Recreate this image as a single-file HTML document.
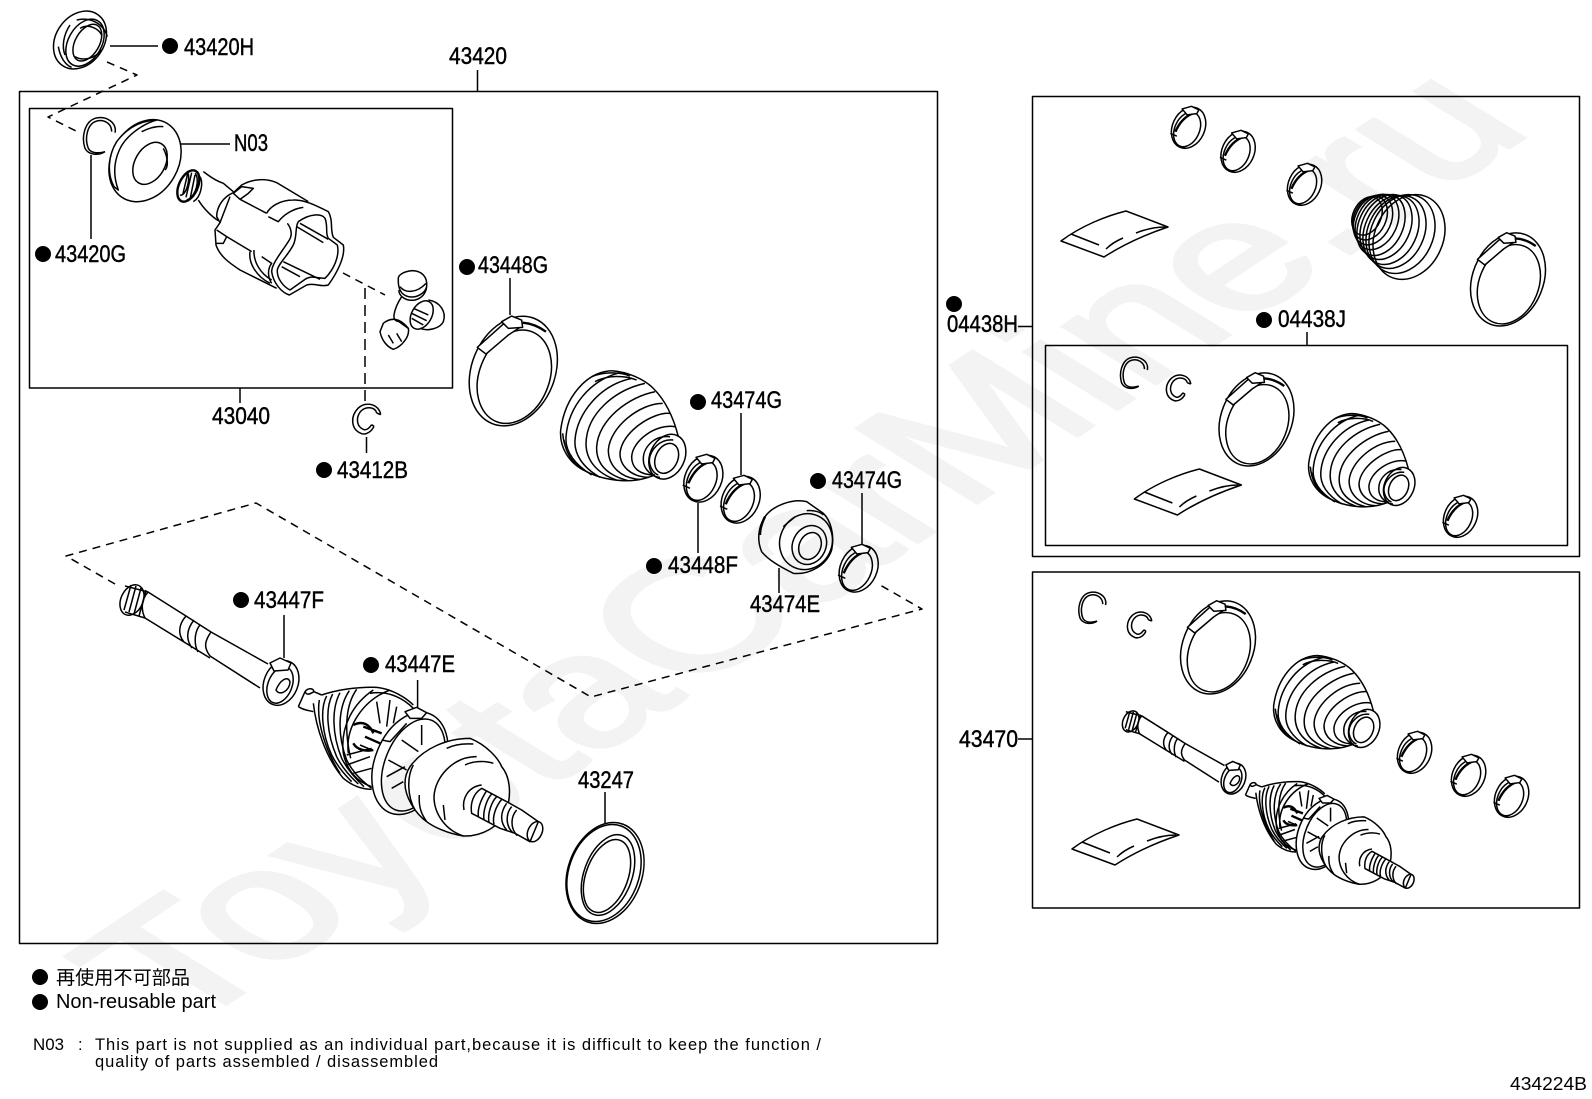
<!DOCTYPE html>
<html><head><meta charset="utf-8"><style>
html,body{margin:0;padding:0;background:#fff}
svg{display:block}
.a path,.a ellipse,.a line,.a polyline,.a rect{fill:none;stroke:#000;stroke-width:1.5;vector-effect:non-scaling-stroke;stroke-linejoin:round}
.a .w{fill:#fff}
.a .t{stroke-width:2.4}
.a .d{stroke-dasharray:8 6;stroke-width:1.5}
.a .b{stroke-width:2.2}
.l{font-family:"Liberation Sans",sans-serif;font-size:24px;fill:#000;stroke:#000;stroke-width:.45}
.s{font-family:"Liberation Sans","Noto Sans CJK JP",sans-serif;fill:#000}
</style></head><body>
<svg class="a" xmlns="http://www.w3.org/2000/svg" width="1592" height="1099" viewBox="0 0 1592 1099">
<defs>
<g id="boot" transform="translate(-540,-560)">
<path d="M515,392C440,395 375,470 362,570C358,620 385,670 440,695C480,715 525,722 560,722C600,722 625,712 645,705"/>
<path d="M515,392C560,395 610,415 640,445C675,480 700,530 715,590"/>
<path d="M540,398C450,420 385,500 378,590C375,630 400,670 455,705"/>
<path d="M575,415C480,435 410,520 405,600C402,640 425,680 480,712"/>
<path d="M615,430C525,450 440,520 438,610C438,660 470,700 530,720"/>
<path d="M645,455C565,470 475,540 470,620C468,670 500,705 565,722"/>
<path d="M668,490C600,490 510,560 505,630C505,680 545,715 600,718"/>
<path d="M690,520C640,515 545,575 540,640C540,680 575,710 625,712"/>
<path d="M705,560C650,550 578,600 575,650C575,685 600,705 645,705"/>
<path d="M455,410C490,395 540,395 570,408M465,425C500,405 555,405 590,420M372,600C378,640 395,665 430,690M368,580C372,625 390,660 420,682"/>
<path d="M690,590C640,585 608,625 610,660C610,690 640,712 660,712M700,600C660,595 630,630 628,660C628,680 640,700 655,705"/>
<ellipse cx="682" cy="650" rx="52" ry="70" transform="rotate(25 682 650)"/>
<ellipse cx="680" cy="655" rx="33" ry="47" transform="rotate(25 680 655)"/>
</g>
<g id="band" transform="translate(-220,-395)">
<ellipse cx="220" cy="393" rx="125" ry="170" transform="rotate(22 220 393)"/>
<ellipse cx="223" cy="410" rx="105" ry="145" transform="rotate(22 223 410)"/>
<path class="w" d="M112,322L190,252L240,262L205,285L138,342Z"/>
<path class="w" d="M185,245L215,228L245,240L248,262L205,265Z"/>
<path class="t" d="M248,248C275,250 300,262 318,275"/>
</g>
<g id="clamp" transform="translate(-788,-717)">
<ellipse cx="790" cy="716" rx="55" ry="73" transform="rotate(25 790 716)"/>
<ellipse cx="785" cy="722" rx="42" ry="62" transform="rotate(25 785 722)"/>
<path class="t" d="M745,730C760,695 780,675 810,665"/>
<path class="w" d="M768,652L800,643L825,655L818,668L785,672Z"/>
<path d="M728,735L750,745"/>
</g>
<g id="cring" transform="translate(-297,-405)">
<path d="M345,398C352,370 320,345 285,355C255,365 243,410 255,445C265,465 295,468 315,455"/>
<path d="M335,395C335,370 310,355 285,365C262,375 253,415 265,445C272,458 290,462 315,455"/>
</g>
<g id="ering" transform="translate(-1098,-1255)">
<path d="M1142,1245C1138,1215 1100,1203 1075,1225C1050,1250 1052,1290 1085,1302C1100,1306 1115,1295 1122,1280"/>
<path d="M1130,1240C1125,1222 1098,1218 1082,1235C1066,1255 1070,1282 1092,1290C1100,1292 1108,1285 1115,1275"/>
<path d="M1130,1240L1142,1245M1115,1275L1122,1280"/>
</g>
<g id="bag">
<path d="M0,0C20,-15 45,-25 65,-30L107,-14C80,-5 60,5 43,16L0,0Z"/>
<path d="M10,-7L38,4M45,8C50,3 55,0 62,-3M75,-8C85,-12 95,-14 104,-14"/>
</g>
<g id="axle">
<ellipse cx="132" cy="600" rx="11" ry="16" transform="rotate(25 132 600)"/>
<path d="M125,586L148,592C141,600 141,610 145,618L125,612M131,585L124,610M136,586L129,612M141,588L134,614M146,590L139,616"/>
<path d="M148,592L186,616M145,618L184,642M186,616C178,625 178,635 184,642M194,620C186,630 186,640 192,648M200,625C194,632 194,645 198,652M211,632C204,642 204,648 210,656M184,642L210,658M186,616L211,632M211,632L268,664M210,656L260,688"/>
<ellipse cx="281" cy="683" rx="17" ry="23" transform="rotate(22 281 683)"/>
<ellipse cx="280" cy="685" rx="12" ry="19" transform="rotate(22 280 685)"/>
<path class="w" d="M270,663L280,658L291,663L288,670L274,671Z"/>
<path d="M276,690C280,680 288,675 290,682C290,690 280,697 276,690Z"/>
<g transform="translate(290,670) scale(.33333)">
<path d="M25,110L45,65C55,52 70,55 72,65L95,75M25,110C40,120 50,120 70,125M45,65C50,75 55,75 72,65"/>
<path d="M70,100C78,170 105,260 160,325C190,350 220,358 245,358"/>
<path d="M95,75C140,60 200,50 260,52C310,58 350,85 370,105"/>
<path d="M88,90C78,150 105,240 150,310M110,78C90,115 95,190 125,255C140,285 160,310 185,335M128,72C105,115 110,190 140,260C155,290 175,315 205,342M150,68C125,115 125,190 155,265C170,295 190,320 222,350M178,62C145,110 140,190 170,270C185,300 205,325 245,355M200,58C170,100 160,170 182,265"/>
<path d="M250,60C190,100 150,170 160,250C170,300 200,335 245,350M300,60C220,90 165,170 175,250M240,70C300,60 345,90 370,115"/>
<path d="M260,95L270,160M300,90L290,170M320,110L310,160M170,255L245,235M170,285L240,260M190,310L245,295M210,225L245,240"/>
<path class="t" d="M190,165C220,150 240,165 250,190M190,220C200,240 230,245 250,240M220,170L275,190M225,200L270,220"/>
<ellipse cx="360" cy="280" rx="105" ry="160" transform="rotate(22 360 280)"/>
<ellipse cx="370" cy="285" rx="85" ry="145" transform="rotate(22 370 285)"/>
<path class="w" d="M345,125L380,112L410,128L395,145L360,145Z"/>
<path d="M275,210L300,215L350,160M335,210L385,245M295,270L350,300M290,320L345,290M395,165L395,225M305,355L340,335"/>
<path class="w" d="M360,290C400,235 470,205 540,205C590,225 625,265 635,290C660,320 665,370 650,420C630,470 575,500 520,498C470,490 430,470 410,455C375,430 345,380 345,340C345,320 350,305 360,290Z"/>
<path d="M560,260C490,260 435,320 432,380C432,430 465,480 520,498M470,235C490,225 520,220 550,222M525,285C545,275 580,270 610,280M388,375C385,420 400,440 410,455M460,405L465,450M370,285C350,320 352,380 375,420"/>
<path d="M522,420C515,385 535,350 575,345"/>
<path class="w" d="M575,355L650,395L695,420L745,455L720,515L675,490L630,475L545,430C540,400 550,370 575,355Z"/>
<path d="M590,362C575,385 562,415 565,440M605,372C590,388 578,425 582,450M620,380C605,395 592,430 597,456M635,388C618,408 606,440 612,463"/>
<path d="M650,400C632,425 628,455 650,480M665,410C648,430 645,465 668,488M680,420C662,440 660,475 682,497"/>
<ellipse cx="735" cy="485" rx="21" ry="32" transform="rotate(25 735 485)"/>
</g>
</g>
</defs>

<g transform="matrix(.857 -.572 .867 .537 182 1033)"><text x="0" y="0" font-family="Liberation Sans" font-size="200" fill="#f3f3f3" stroke="#f3f3f3" stroke-width="5">ToyotaCarMine.ru</text></g>

<rect x="19.5" y="91.5" width="918" height="852"/>
<rect x="29.5" y="108.5" width="423" height="279.5"/>
<rect x="1032.5" y="96.5" width="547" height="460"/>
<rect x="1045.5" y="345.5" width="522" height="200"/>
<rect x="1032.5" y="572" width="547" height="336"/>

<path class="d" d="M107,62L137,75L48,117L78,132"/>
<path class="d" d="M343,273L385,295"/>
<path class="d" style="stroke-dasharray:11 6" d="M365,288V402"/>
<path class="d" d="M115,584L66,556L256,503L591,697L922,609L880,585"/>

<path d="M477.500,70V91M240,388V403M366.500,437V453M110,46H158M181,144H230M91,155V239M510,278V315M741,413V475M862,493V545M698,503V553M779,568V593M284,615V658M417.600,680V708M605,792V823M1018,326.500H1032M1307,332V345M1018,739H1032"/>

<g transform="scale(.33333)">
<ellipse cx="240" cy="120" rx="72" ry="93" transform="rotate(35 240 120)"/>
<ellipse cx="255" cy="128" rx="50" ry="76" transform="rotate(30 255 128)"/>
<ellipse cx="262" cy="128" rx="36" ry="60" transform="rotate(30 262 128)"/>
<path d="M175,140C180,170 195,195 215,202M230,60C270,50 310,70 322,110M225,170C250,185 285,175 305,150M210,75C190,105 185,140 195,165M240,85C265,70 295,85 305,105"/>
</g>

<use href="#cring" transform="translate(99,135) scale(.33333)"/>
<g transform="scale(.33333)">
<ellipse cx="435" cy="482" rx="100" ry="130" transform="rotate(30 435 482)"/>
<path class="w" d="M342,560C320,520 325,465 350,425C380,385 420,362 470,360C440,368 380,400 358,450C340,490 340,530 355,570Z"/>
<ellipse cx="450" cy="490" rx="45" ry="68" transform="rotate(30 450 490)"/>
<path d="M425,395C445,385 470,378 490,380M490,445C505,475 505,500 495,510"/>
<ellipse class="t" cx="565" cy="558" rx="28" ry="50" transform="rotate(25 565 558)"/>
<path d="M565,512L548,585M575,518L558,592M585,525L570,598M560,515C575,525 560,590 540,585M585,520C600,535 590,590 560,600M600,530C610,545 605,590 580,605M610,515C625,525 640,540 670,550L700,575M595,600C610,625 635,650 655,662"/>
<path d="M700,578C670,590 650,620 650,650L660,668L690,590"/>
<path d="M700,578L725,555C760,535 800,535 830,548L925,605"/>
<path d="M700,580L725,560L760,565L745,580L720,598L700,580M720,598L800,640"/>
<path d="M660,668L645,690L648,735C660,770 690,790 720,810L830,865"/>
<path d="M650,690L680,710L670,730L648,730M680,710L755,755"/>
<path d="M800,640C810,620 840,600 880,600C910,598 945,615 985,635C1000,660 990,690 1000,712L1030,735C1037,770 1010,820 985,855C960,862 945,848 920,855L868,885C845,878 820,850 815,815C815,790 850,750 868,720C880,700 870,680 862,670"/>
<path d="M805,650L835,665C850,645 880,625 910,622M895,665C930,640 965,640 975,655C985,680 975,700 985,715L1012,735C1020,770 1000,810 975,835C950,835 935,825 915,838L870,870C850,860 830,835 832,810C835,790 870,760 882,730C892,700 885,680 895,665Z"/>
<path d="M900,670L985,718M890,680L970,728M850,785L960,838M845,800L900,830M750,755C745,790 770,830 810,850M762,750C760,785 780,820 815,840M785,770L815,790C800,810 805,835 815,850"/>
<path d="M1195,835C1195,825 1210,815 1235,812C1265,812 1283,830 1280,860C1275,880 1250,895 1225,890C1205,885 1193,870 1195,835ZM1200,860C1215,880 1250,880 1278,850M1197,870C1195,885 1215,905 1245,900C1265,895 1278,880 1280,860"/>
<path d="M1205,890C1195,905 1185,925 1182,945C1180,960 1190,965 1200,965M1190,960L1225,985"/>
<ellipse cx="1265" cy="945" rx="30" ry="46" transform="rotate(30 1265 945)"/>
<path d="M1285,900C1320,905 1340,935 1330,965C1320,985 1285,995 1260,985M1240,925L1285,945M1235,940L1280,962M1235,955L1270,975"/>
<path d="M1150,970C1175,950 1200,955 1225,985C1230,1010 1205,1040 1180,1048C1160,1040 1145,1020 1140,995ZM1190,1000L1205,1025M1165,1005L1180,1030"/>
</g>
<use href="#ering" transform="translate(366,418) scale(.33333)"/>

<use href="#band" transform="translate(513.300,371.700) scale(.33333)"/>
<use href="#boot" transform="translate(620,426.700) scale(.33333)"/>
<use href="#clamp" transform="translate(702.700,479) scale(.33333)"/>
<use href="#clamp" transform="translate(740,500) scale(.33333)"/>
<use href="#clamp" transform="translate(858,569) scale(.33333)"/>

<g transform="translate(440,240) scale(.33333)">
<path d="M1100,785C1060,775 1000,795 975,830C955,860 950,900 965,935C985,960 1020,980 1060,1000C1110,1005 1160,975 1175,930C1185,880 1170,840 1150,820Z"/>
<path class="t" d="M975,830C965,850 960,870 960,885"/>
<ellipse cx="1098" cy="905" rx="78" ry="85" transform="rotate(25 1098 905)"/>
<ellipse cx="1108" cy="915" rx="50" ry="60" transform="rotate(25 1108 915)"/>
<ellipse cx="1110" cy="918" rx="32" ry="42" transform="rotate(25 1110 918)"/>
<path d="M1030,860C1040,850 1055,840 1065,830M1100,812C1120,810 1140,815 1150,825"/>
</g>

<use href="#axle"/>

<ellipse cx="605" cy="873" rx="37" ry="52" transform="rotate(20 605 873)"/>
<ellipse cx="604" cy="873" rx="35" ry="50" transform="rotate(20 604 873)"/>
<ellipse cx="608" cy="875" rx="24" ry="42" transform="rotate(20 608 875)"/>
<ellipse cx="607" cy="876" rx="21" ry="38" transform="rotate(20 607 876)"/>

<!-- panel 1 -->
<use href="#clamp" transform="translate(1188,128) scale(.293)"/>
<use href="#clamp" transform="translate(1237.500,152) scale(.293)"/>
<use href="#clamp" transform="translate(1304,185) scale(.293)"/>
<use href="#bag" transform="translate(1061,241)"/>
<use href="#band" transform="translate(1508,280) scale(.283)"/>
<ellipse cx="1367" cy="216" rx="14" ry="20" transform="rotate(25 1367 216)"/>
<ellipse cx="1370" cy="218" rx="16" ry="23" transform="rotate(25 1370 218)"/>
<ellipse cx="1373" cy="220" rx="18" ry="26" transform="rotate(25 1373 220)"/>
<ellipse cx="1377" cy="222" rx="20" ry="29" transform="rotate(25 1377 222)"/>
<ellipse cx="1381" cy="225" rx="22" ry="32" transform="rotate(25 1381 225)"/>
<ellipse cx="1386" cy="227" rx="24" ry="34" transform="rotate(25 1386 227)"/>
<ellipse cx="1391" cy="230" rx="26" ry="36" transform="rotate(25 1391 230)"/>
<ellipse cx="1396" cy="232" rx="28" ry="38" transform="rotate(25 1396 232)"/>
<ellipse cx="1402" cy="234" rx="31" ry="41" transform="rotate(25 1402 234)"/>
<ellipse cx="1409" cy="237" rx="34" ry="44" transform="rotate(25 1409 237)"/>

<!-- panel 2 -->
<use href="#cring" transform="translate(1133.700,372) scale(.283)"/>
<use href="#ering" transform="translate(1178,387) scale(.29)"/>
<use href="#band" transform="translate(1256.500,420) scale(.283)"/>
<use href="#boot" transform="translate(1359,461) scale(.283)"/>
<use href="#clamp" transform="translate(1460,517) scale(.293)"/>
<use href="#bag" transform="translate(1134.400,499)"/>

<!-- panel 3 -->
<use href="#cring" transform="translate(1092,607) scale(.283)"/>
<use href="#ering" transform="translate(1139,624) scale(.29)"/>
<use href="#band" transform="translate(1218,648) scale(.283)"/>
<use href="#boot" transform="translate(1324,703) scale(.283)"/>
<use href="#clamp" transform="translate(1414,753) scale(.293)"/>
<use href="#clamp" transform="translate(1468,776) scale(.293)"/>
<use href="#clamp" transform="translate(1511,797) scale(.293)"/>
<use href="#bag" transform="translate(1072,849)"/>
<use href="#axle" transform="translate(1039.600,307.400) scale(.69)"/>

<!-- dots -->
<g>
<circle cx="170" cy="46" r="8" fill="#000"/>
<circle cx="43" cy="254" r="8" fill="#000"/>
<circle cx="324" cy="470" r="8" fill="#000"/>
<circle cx="467" cy="267" r="8" fill="#000"/>
<circle cx="698" cy="402" r="8" fill="#000"/>
<circle cx="818" cy="481" r="8" fill="#000"/>
<circle cx="654" cy="566" r="8" fill="#000"/>
<circle cx="241" cy="600" r="8" fill="#000"/>
<circle cx="371" cy="665" r="8" fill="#000"/>
<circle cx="954" cy="304" r="8" fill="#000"/>
<circle cx="1264" cy="320" r="8" fill="#000"/>
<circle cx="40" cy="977" r="8" fill="#000"/>
<circle cx="40" cy="1002" r="8" fill="#000"/>
</g>

<!-- labels -->
<text class="l" x="184" y="55" textLength="70" lengthAdjust="spacingAndGlyphs">43420H</text>
<text class="l" x="449" y="64" textLength="58" lengthAdjust="spacingAndGlyphs">43420</text>
<text class="l" x="234" y="151" textLength="34" lengthAdjust="spacingAndGlyphs">N03</text>
<text class="l" x="55" y="262" textLength="71" lengthAdjust="spacingAndGlyphs">43420G</text>
<text class="l" x="212" y="424" textLength="58" lengthAdjust="spacingAndGlyphs">43040</text>
<text class="l" x="337" y="478" textLength="71" lengthAdjust="spacingAndGlyphs">43412B</text>
<text class="l" x="478" y="273" textLength="70" lengthAdjust="spacingAndGlyphs">43448G</text>
<text class="l" x="711" y="408" textLength="71" lengthAdjust="spacingAndGlyphs">43474G</text>
<text class="l" x="832" y="488" textLength="70" lengthAdjust="spacingAndGlyphs">43474G</text>
<text class="l" x="668" y="573" textLength="70" lengthAdjust="spacingAndGlyphs">43448F</text>
<text class="l" x="750" y="612" textLength="70" lengthAdjust="spacingAndGlyphs">43474E</text>
<text class="l" x="254" y="608" textLength="70" lengthAdjust="spacingAndGlyphs">43447F</text>
<text class="l" x="385" y="672" textLength="70" lengthAdjust="spacingAndGlyphs">43447E</text>
<text class="l" x="578" y="788" textLength="56" lengthAdjust="spacingAndGlyphs">43247</text>
<text class="l" x="947" y="332" textLength="71" lengthAdjust="spacingAndGlyphs">04438H</text>
<text class="l" x="1278" y="327" textLength="68" lengthAdjust="spacingAndGlyphs">04438J</text>
<text class="l" x="959" y="747" textLength="59" lengthAdjust="spacingAndGlyphs">43470</text>

<text class="s" x="56" y="984" font-size="19" textLength="134" lengthAdjust="spacingAndGlyphs">再使用不可部品</text>
<text class="s" x="56" y="1008" font-size="20" textLength="160" lengthAdjust="spacingAndGlyphs">Non-reusable part</text>
<text class="s" x="33" y="1050" font-size="16.5" textLength="31" lengthAdjust="spacingAndGlyphs">N03</text>
<text class="s" x="78" y="1050" font-size="16.5">:</text>
<text class="s" x="95" y="1050" font-size="16.5" textLength="726" lengthAdjust="spacing">This part is not supplied as an individual part,because it is difficult to keep the function /</text>
<text class="s" x="95" y="1067" font-size="16.5" textLength="343" lengthAdjust="spacing">quality of parts assembled / disassembled</text>
<text class="s" x="1510" y="1090" font-size="18" textLength="77" lengthAdjust="spacingAndGlyphs">434224B</text>
</svg>
</body></html>
